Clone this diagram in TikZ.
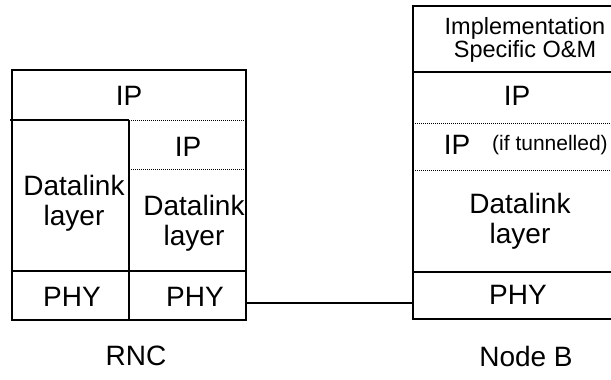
\documentclass[tikz,border=0pt]{standalone}
\usepackage{fontspec}
\setmainfont{Liberation Sans}
\usepackage{tikz}

\begin{document}
\begin{tikzpicture}[x=1pt,y=-1pt]
    \tikzstyle{every node}+=[inner sep=0pt, align=center, font=\fontsize{28}{30}\selectfont]
    \tikzstyle{edge}=[black, line width=1.4pt]
    \tikzstyle{dots}=[black, line width=1pt, dash pattern=on 1pt off 1pt]
    \tikzstyle{small}=[font=\fontsize{23.5}{23}\selectfont]
    \tikzstyle{tiny}=[font=\fontsize{21}{22}\selectfont]
    \useasboundingbox (0,0) rectangle (611,380);
    % RNC stack
    \draw [edge] (12,70) rectangle (246,320);
    \draw [edge] (10,120) -- (129,120);
    \draw [dots] (129,120) -- (246,120);
    \draw [edge] (129,120) -- (129,320);
    \draw [dots] (129,169) -- (246,169);
    \draw [edge] (12,271) -- (246,271);
    \node (rip) at (129,96) {IP};
    \node (rip2) at (188,147) {IP};
    \node (rdl1) at (74,203) {Datalink\\layer};
    \node (rdl2) at (194,223) {Datalink\\layer};
    \node (rphy1) at (72,297) {PHY};
    \node (rphy2) at (195,297) {PHY};
    \node (rnc) at (136,356) {RNC};
    % Node B stack, right side runs off the page
    \draw [edge] (640,6) -- (413,6) -- (413,319) -- (640,319);
    \draw [edge] (413,72) -- (640,72);
    \draw [dots] (413,123) -- (640,123);
    \draw [dots] (413,170) -- (640,170);
    \draw [edge] (413,272) -- (640,272);
    \node [small] (om) at (525,40) {Implementation\\Specific O\&M};
    \node (nip) at (517,96) {IP};
    \node (nip2) at (457,145) {IP};
    \node [tiny, right] (tun) at (492,145) {(if tunnelled)};
    \node (ndl) at (520,221) {Datalink\\layer};
    \node (nphy) at (518,295) {PHY};
    \node (nodeb) at (526,356) {Node B};
    % link
    \coordinate (rport) at (246,303);
    \coordinate (nport) at (413,303);
    \draw [edge] (rport) -- (nport);
\end{tikzpicture}
\end{document}
